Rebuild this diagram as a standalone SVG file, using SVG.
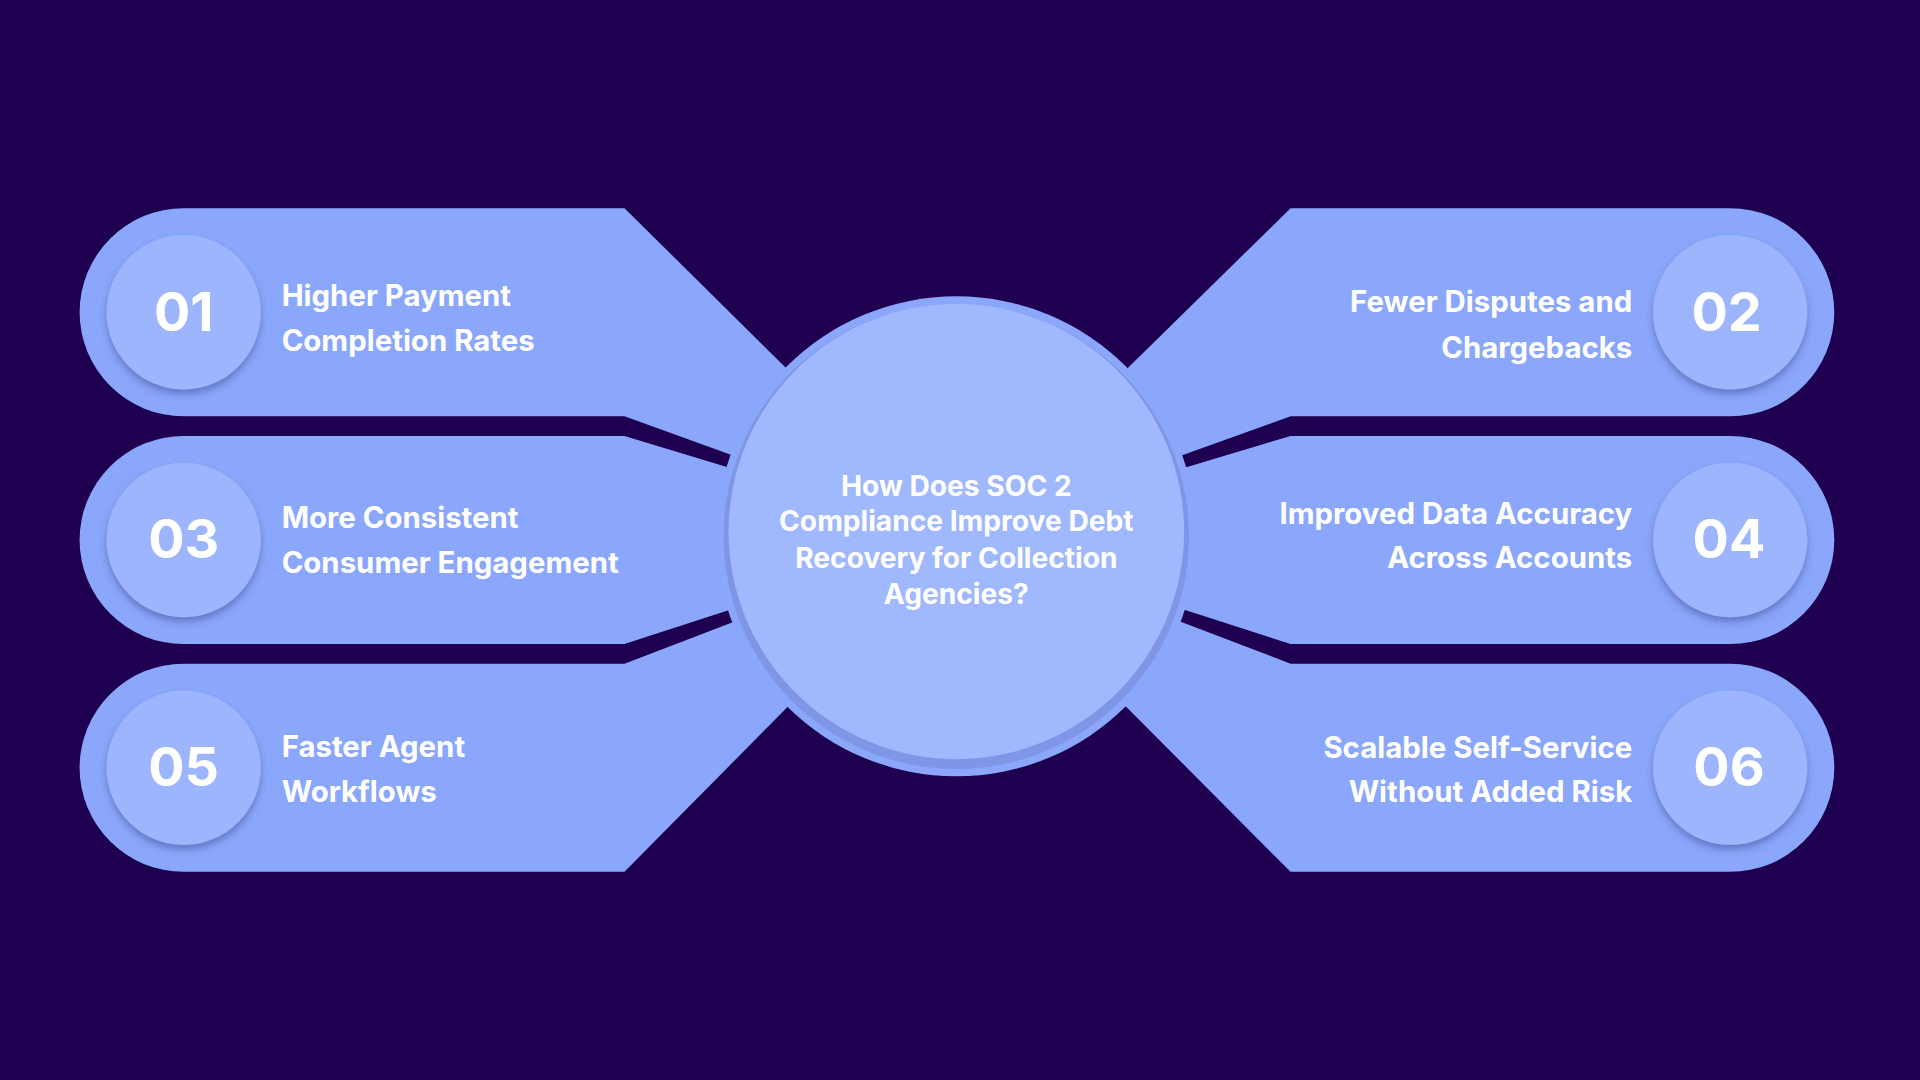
<svg xmlns="http://www.w3.org/2000/svg" width="1920" height="1080" viewBox="0 0 1920 1080">
<defs>
<style>
.band{fill:#8aa7fb}
.num{fill:#9db5fc;filter:url(#sh)}
.nt{font-family:Inter,"Noto Sans",sans-serif;font-weight:700;font-size:44px;fill:#fff;text-anchor:middle}
.lt{font-family:Inter,"Noto Sans",sans-serif;font-weight:700;font-size:24px;fill:#fff}
.r{text-anchor:end}
.ct{font-family:Inter,"Noto Sans",sans-serif;font-weight:700;font-size:23px;fill:#fff;text-anchor:middle}
</style>
<filter id="sh" x="-20%" y="-20%" width="140%" height="150%"><feDropShadow dx="0" dy="4" stdDeviation="3" flood-color="#3a3f8a" flood-opacity="0.45"/></filter>
</defs>
<rect width="1920" height="1080" fill="#1f0050"/>
<g transform="scale(1.22449)">
<g id="connectors">
<path class="band" d="M150,170 H510 L781,438 L510,340 H150 A85,85 0 0 1 150,170Z"/>
<path class="band" d="M150,356 H510 L781,438 L510,526 H150 A85,85 0 0 1 150,356Z"/>
<path class="band" d="M150,542 H510 L781,438 L510,712 H150 A85,85 0 0 1 150,542Z"/>
<path class="band" d="M1413,170 H1054 L781,438 L1054,340 H1413 A85,85 0 0 0 1413,170Z"/>
<path class="band" d="M1413,356 H1054 L781,438 L1054,526 H1413 A85,85 0 0 0 1413,356Z"/>
<path class="band" d="M1413,542 H1054 L781,438 L1054,712 H1413 A85,85 0 0 0 1413,542Z"/>
</g>
<g id="center">
<circle cx="781" cy="438" r="196" fill="#8aa7fb"/>
<circle cx="781" cy="438" r="190" fill="#7f95e6"/>
<circle cx="781" cy="434" r="186" fill="#a0b8fd"/>
<text class="ct" x="781" y="405">How Does SOC 2</text>
<text class="ct" x="781" y="434">Compliance Improve Debt</text>
<text class="ct" x="781" y="464">Recovery for Collection</text>
<text class="ct" x="781" y="493">Agencies?</text>
</g>
<g id="n01"><circle class="num" cx="150" cy="255" r="63"/><text class="nt" x="150" y="270">01</text>
<text class="lt" x="230" y="250">Higher Payment</text><text class="lt" x="230" y="287">Completion Rates</text></g>
<g id="n03"><circle class="num" cx="150" cy="441" r="63"/><text class="nt" x="150" y="456">03</text>
<text class="lt" x="230" y="431">More Consistent</text><text class="lt" x="230" y="468">Consumer Engagement</text></g>
<g id="n05"><circle class="num" cx="150" cy="627" r="63"/><text class="nt" x="150" y="642">05</text>
<text class="lt" x="230" y="618">Faster Agent</text><text class="lt" x="230" y="655">Workflows</text></g>
<g id="n02"><circle class="num" cx="1413" cy="255" r="63"/><text class="nt" x="1410" y="270">02</text>
<text class="lt r" x="1333" y="255">Fewer Disputes and</text><text class="lt r" x="1333" y="292">Chargebacks</text></g>
<g id="n04"><circle class="num" cx="1413" cy="441" r="63"/><text class="nt" x="1412" y="456">04</text>
<text class="lt r" x="1333" y="428">Improved Data Accuracy</text><text class="lt r" x="1333" y="464">Across Accounts</text></g>
<g id="n06"><circle class="num" cx="1413" cy="627" r="63"/><text class="nt" x="1412" y="642">06</text>
<text class="lt r" x="1333" y="619">Scalable Self-Service</text><text class="lt r" x="1333" y="655">Without Added Risk</text></g>
</g>
</svg>
